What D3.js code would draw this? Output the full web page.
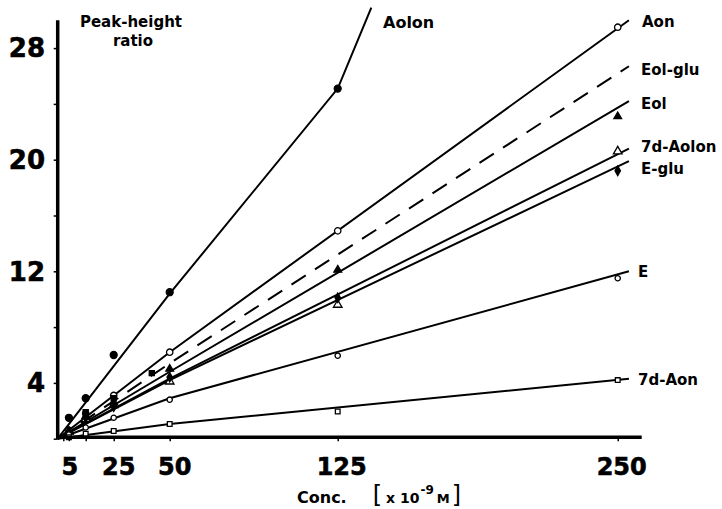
<!DOCTYPE html>
<html>
<head>
<meta charset="utf-8">
<script src="https://cdn.jsdelivr.net/npm/d3@7"></script>
<style>
  body { margin: 0; background: #fff; }
  text { font-family: "DejaVu Sans", "Liberation Sans", sans-serif; font-weight: bold; fill: #000; }
</style>
</head>
<body>
<svg id="chart"></svg>
<script>
// concentrations (x 10^-9 M) where points were measured
var conc = [5, 12.5, 25, 50, 125, 250]
var xTickLabels = [5, 25, 50, 125, 250]
var xMinorTicks = [2.5, 12.5]
var yTickLabels = [4, 12, 20, 28]
var yMinorTicks = [0, 8, 16, 24]

var names = ["Aolon", "Aon", "Eol-glu", "Eol", "7d-Aolon", "E-glu", "E", "7d-Aon"]

// measured peak-height ratios (null = not shown)
var aolonPts    = [1.5, 2.9, 6.0, 10.5, 25.1, null]
var aonPts      = [0.6, 1.8, 3.1, 6.2, 14.9, 29.5]
var eolGluPts   = [null, 1.9, 2.9, null, null, null]
var eolPts      = [0.5, 1.6, 2.6, 5.0, 12.1, 23.1]
var d7AolonPts  = [0.5, 1.4, 2.4, 4.1, 9.6, 20.6]
var eGluPts     = [0.5, 1.5, 2.3, 4.4, 10.1, 19.2]
var ePts        = [0.3, 0.8, 1.5, 2.8, 5.95, 11.5]
var d7AonPts    = [0.1, 0.35, 0.55, 1.05, 1.95, 4.2]

// extra filled point on the Eol-glu curve
var eolGluExtra = [[42, 4.7]]

// fitted lines: [conc, ratio] vertices
var aolonLine   = [[0, 0], [50, 10.4], [125, 25.1], [140, 30.9]]
var aonLine     = [[0, 0], [50, 6.2], [255, 30.0]]
var eolGluLine  = [[0, 0], [50, 5.4], [255, 26.7]]
var eolLine     = [[0, 0], [50, 4.8], [255, 24.2]]
var d7AolonLine = [[0, 0], [50, 4.3], [255, 20.8]]
var eGluLine    = [[0, 0], [50, 4.2], [255, 19.9]]
var eLine       = [[0, 0], [50, 2.9], [255, 12.0]]
var d7AonLine   = [[0, 0], [50, 1.05], [255, 4.3]]

var width = 722, height = 509

var svg = d3.select("#chart")
            .attr("width", width)
            .attr("height", height)

var xScale = d3.scaleLinear()
               .domain([0, 260.7])
               .range([57.7, 641.7])
var yScale = d3.scaleLinear()
               .domain([0, 30])
               .range([438.7, 20.2])

var series = [
  {name: "Aolon",    pts: aolonPts,   line: aolonLine,   mark: "circle",   filled: true,  label: [383, 22], fs: 16},
  {name: "Aon",      pts: aonPts,     line: aonLine,     mark: "circle",   filled: false, label: [642, 22]},
  {name: "Eol-glu",  pts: eolGluPts,  line: eolGluLine,  mark: "square",   filled: true,  label: [641, 70], dash: "17,11"},
  {name: "Eol",      pts: eolPts,     line: eolLine,     mark: "triangle", filled: true,  label: [641, 104]},
  {name: "7d-Aolon", pts: d7AolonPts, line: d7AolonLine, mark: "triangle", filled: false, label: [641, 147]},
  {name: "E-glu",    pts: eGluPts,    line: eGluLine,    mark: "diamond",  filled: true,  label: [641, 169]},
  {name: "E",        pts: ePts,       line: eLine,       mark: "circle",   filled: false, label: [638, 272], small: true},
  {name: "7d-Aon",   pts: d7AonPts,   line: d7AonLine,   mark: "square",   filled: false, label: [638, 380], small: true}
]

var line = d3.line()
             .x(d => xScale(d[0]))
             .y(d => yScale(d[1]))

svg.append("g")
   .selectAll("path")
   .data(series)
   .join("path")
   .attr("d", d => line(d.line))
   .style("fill", "none")
   .style("stroke", "#000")
   .style("stroke-width", 2)
   .style("stroke-dasharray", d => d.dash || null)

var symbolType = {circle: d3.symbolCircle, square: d3.symbolSquare, triangle: d3.symbolTriangle, diamond: d3.symbolDiamond}

series.forEach(s => {
  var pts = conc.map((c, i) => [c, s.pts[i]]).filter(p => p[1] != null)
  if (s.name == "Eol-glu") pts = pts.concat(eolGluExtra)
  svg.append("g")
     .selectAll("path")
     .data(pts)
     .join("path")
     .attr("transform", d => `translate(${xScale(d[0])},${yScale(d[1])})`)
     .attr("d", d3.symbol().type(symbolType[s.mark]).size(s.filled ? (s.mark == "circle" ? 38 : 26) : (s.small ? 22 : 32)))
     .style("fill", s.filled ? "#000" : "#fff")
     .style("stroke", "#000")
     .style("stroke-width", 1.3)

  svg.append("text")
     .attr("x", s.label[0])
     .attr("y", s.label[1])
     .attr("dy", "0.36em")
     .style("font-size", (s.fs || 15) + "px")
     .text(s.name)
})

// axes
var xAxisgen = d3.axisBottom(xScale).tickValues(xTickLabels.concat(xMinorTicks)).tickSize(4).tickFormat("")
var yAxisgen = d3.axisLeft(yScale).tickValues(yTickLabels.concat(yMinorTicks)).tickSize(4).tickFormat("")

var xAxis = svg.append("g")
               .attr("transform", `translate(0,${yScale(0) - 1.5})`)
               .call(xAxisgen)
xAxis.select(".domain").remove()
xAxis.selectAll("line").style("stroke-width", 1.5)

var yAxis = svg.append("g")
               .attr("transform", `translate(${xScale(0)},0)`)
               .call(yAxisgen)
yAxis.select(".domain").remove()
yAxis.selectAll("line").style("stroke-width", 1.5)

svg.append("line")
   .attr("x1", xScale(0)).attr("x2", xScale(0))
   .attr("y1", yScale(30)).attr("y2", yScale(0))
   .style("stroke", "#000").style("stroke-width", 3.5)
svg.append("line")
   .attr("x1", xScale(0) - 1.7).attr("x2", xScale(260.7))
   .attr("y1", yScale(0) - 1.5).attr("y2", yScale(0) - 1.5)
   .style("stroke", "#000").style("stroke-width", 3.5)

svg.append("g")
   .selectAll("text")
   .data(yTickLabels)
   .join("text")
   .attr("x", 45)
   .attr("y", d => yScale(d))
   .attr("dy", "0.36em")
   .attr("text-anchor", "end")
   .style("font-size", "26px")
   .style("stroke", "#000")
   .style("stroke-width", 0.6)
   .text(d => d)

svg.append("g")
   .selectAll("text")
   .data(xTickLabels)
   .join("text")
   .attr("x", d => xScale(d) + (d == 5 ? 1 : (d < 125 ? 5 : 4)))
   .attr("y", 475)
   .attr("text-anchor", "middle")
   .style("font-size", "24px")
   .style("stroke", "#000")
   .style("stroke-width", 0.6)
   .text(d => d)

// axis titles
svg.append("text")
   .attr("x", 131).attr("y", 27)
   .attr("text-anchor", "middle")
   .style("font-size", "15px")
   .text("Peak-height")
svg.append("text")
   .attr("x", 133).attr("y", 46)
   .attr("text-anchor", "middle")
   .style("font-size", "15px")
   .text("ratio")

var xt = svg.append("text")
   .attr("x", 297).attr("y", 503)
   .style("font-size", "16px")
xt.append("tspan").text("Conc.")
xt.append("tspan").attr("dx", 26).style("font-size", "24px").style("font-weight", "normal").text("[")
xt.append("tspan").attr("dx", 4).style("font-size", "14px").text("x 10")
xt.append("tspan").attr("dx", 1).attr("dy", -9).style("font-size", "12px").text("-9")
xt.append("tspan").attr("dx", 3).attr("dy", 9).style("font-size", "13px").text("M")
xt.append("tspan").attr("dx", 2).style("font-size", "24px").style("font-weight", "normal").text("]")
</script>
</body>
</html>
